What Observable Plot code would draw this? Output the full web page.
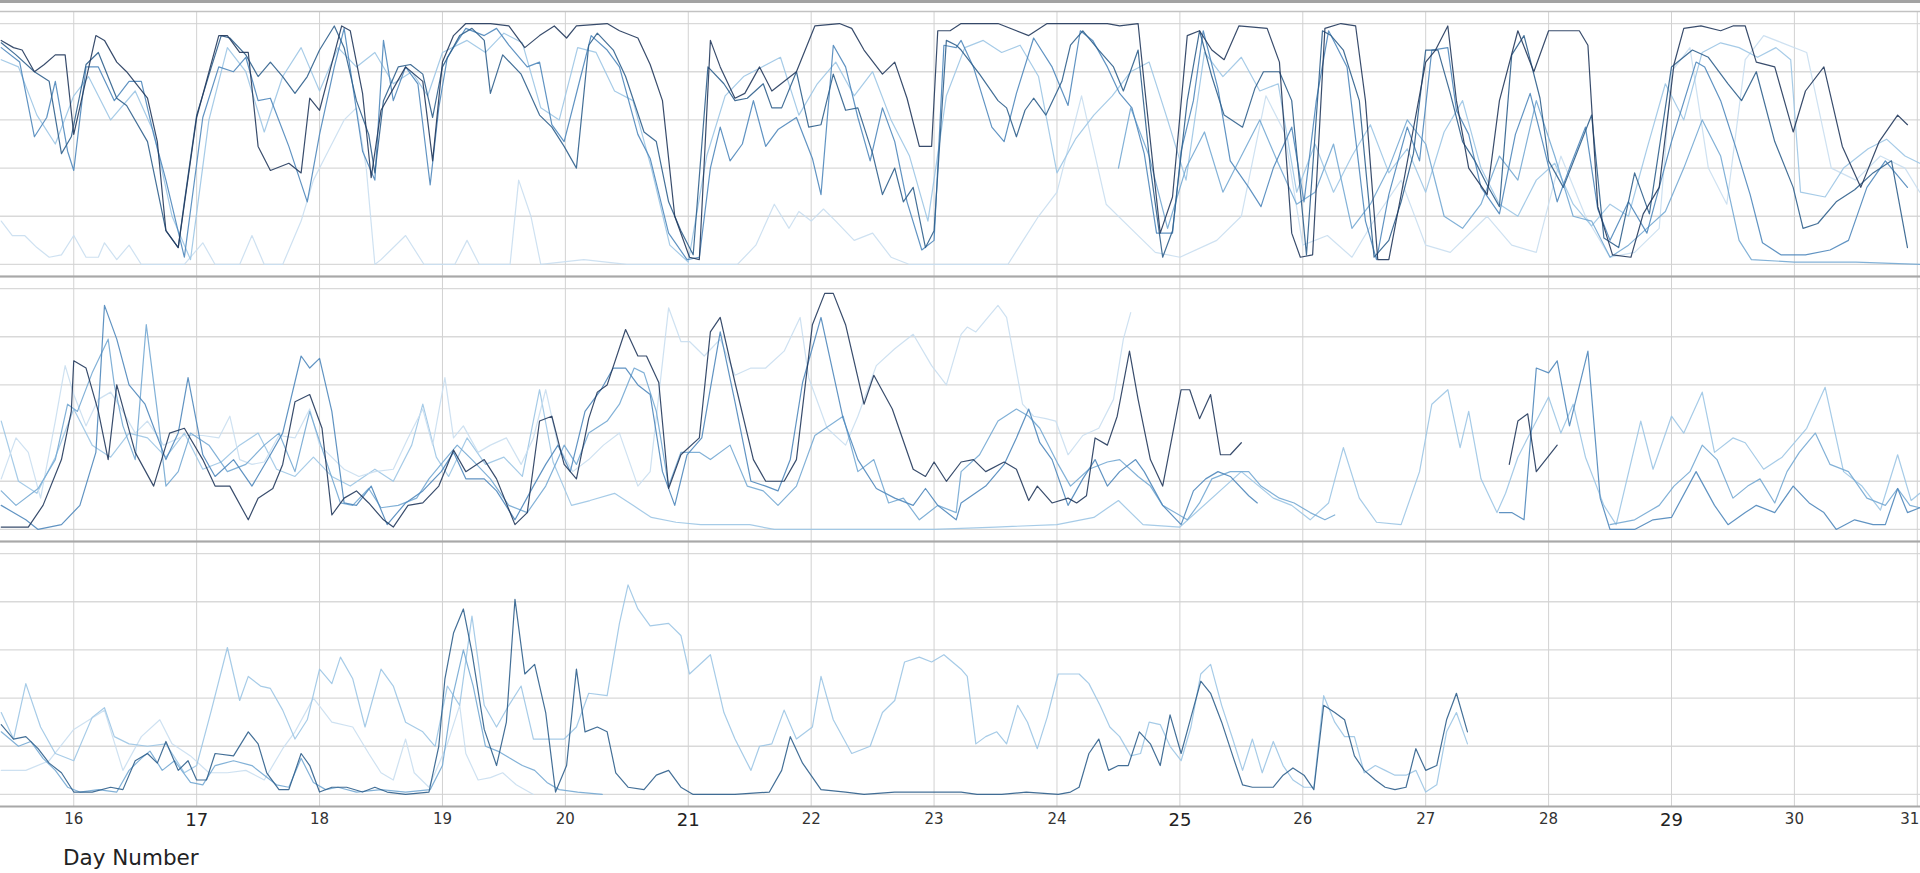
<!DOCTYPE html>
<html><head><meta charset="utf-8">
<script src="https://cdn.jsdelivr.net/npm/d3@7"></script>
<script src="https://cdn.jsdelivr.net/npm/@observablehq/plot@0.6"></script>
<style>
body{margin:0;background:#fff;font-family:"DejaVu Sans",sans-serif;}
#wrap{position:relative;width:1920px;height:873px;overflow:hidden;}
#topband{position:absolute;left:0;top:0;width:1920px;height:3px;background:#a3a3a3;}
#xlabel{position:absolute;left:63px;top:846px;font-size:21.5px;line-height:24px;color:#222;font-family:"DejaVu Sans",sans-serif;}
</style></head><body>
<div id="wrap"><div id="chart"></div><div id="topband"></div><div id="xlabel">Day Number</div></div>
<script>
// ---------- tick labels / categories ----------
const days = [16,17,18,19,20,21,22,23,24,25,26,27,28,29,30,31];
const bigDays = [17,21,25,29];
const edgeDays = [31];
const panels = ["p1","p2","p3"];
const gridValues = [0,20,40,60,80,100];
const shades = ["vl","lt","mf","md","dm","dk"];
const shadeColors = ["#c9def0","#9cc5e4","#74a8d3","#4f87bb","#2f5f8c","#22395c"];

// ---------- panel 1 ----------
const p1A = [[15.41,93],[15.51,90],[15.58,89],[15.68,80],[15.76,83],[15.85,87],[15.93,87],[16.0,54],[16.18,95],[16.25,93],[16.35,84],[16.43,80],[16.6,69],[16.68,51],[16.75,14],[16.85,7],[17.0,61],[17.18,95],[17.25,95],[17.35,88],[17.42,88],[17.5,49],[17.6,39],[17.75,42],[17.85,38],[17.92,69],[18.0,64],[18.18,99],[18.25,97],[18.35,71],[18.42,36],[18.5,64],[18.6,73],[18.7,82],[18.84,76],[18.92,43],[19.0,84],[19.09,95],[19.19,100],[19.39,100],[19.54,99],[19.67,90],[19.79,95],[19.91,99],[20.01,94],[20.09,99],[20.34,100],[20.44,97],[20.59,94],[20.69,83],[20.79,68],[20.89,20],[21.01,3],[21.09,2],[21.18,93],[21.26,82],[21.38,69],[21.46,71],[21.58,82],[21.68,72],[21.88,80],[22.03,99],[22.23,100],[22.33,98],[22.43,89],[22.58,79],[22.68,84],[22.78,69],[22.88,49],[22.98,49],[23.03,97],[23.13,97],[23.22,100],[23.52,100],[23.77,95],[23.92,100],[24.41,100],[24.51,99],[24.66,100],[24.71,75],[24.84,13],[24.94,28],[25.06,95],[25.16,97],[25.26,89],[25.36,85],[25.48,99],[25.71,98],[25.81,84],[25.91,13],[25.98,3],[26.08,4],[26.18,98],[26.31,100],[26.43,99],[26.51,68],[26.61,2],[26.7,2],[26.83,37],[27.0,84],[27.08,89],[27.18,99],[27.25,68],[27.35,40],[27.5,29],[27.6,68],[27.75,97],[27.88,80],[28.0,97],[28.25,97],[28.32,91],[28.4,24],[28.52,4],[28.67,3],[28.77,21],[28.9,32],[29.02,83],[29.1,98],[29.24,99],[29.4,97],[29.5,99],[29.6,99],[29.69,84],[29.84,82],[29.99,55],[30.09,72],[30.24,82],[30.39,49],[30.54,32],[30.69,51],[30.84,62],[30.92,58]];
const p1B = [[15.41,92],[15.53,87],[15.68,80],[15.8,76],[15.9,46],[15.98,53],[16.1,83],[16.2,88],[16.35,69],[16.43,66],[16.6,51],[16.75,14],[16.85,7],[16.9,26],[17.0,62],[17.12,82],[17.2,95],[17.27,94],[17.4,87],[17.5,78],[17.6,84],[17.7,78],[17.8,71],[17.9,78],[18.0,89],[18.12,99],[18.2,90],[18.3,68],[18.4,54],[18.45,38],[18.52,68],[18.64,82],[18.74,83],[18.84,79],[18.92,61],[19.0,82],[19.14,95],[19.24,98],[19.34,93],[19.39,71],[19.49,87],[19.64,79],[19.79,62],[19.89,57],[19.99,49],[20.09,40],[20.19,91],[20.26,96],[20.39,89],[20.49,78],[20.64,55],[20.74,51],[20.84,26],[20.94,14],[21.04,4],[21.16,82],[21.29,75],[21.38,68],[21.48,69],[21.61,75],[21.68,65],[21.76,65],[21.88,80],[21.98,57],[22.08,58],[22.18,79],[22.28,64],[22.38,65],[22.5,46],[22.58,29],[22.68,40],[22.75,26],[22.83,32],[22.93,7],[23.0,14],[23.1,93],[23.18,91],[23.22,89],[23.37,79],[23.52,68],[23.59,65],[23.67,53],[23.74,64],[23.81,69],[23.91,62],[24.04,76],[24.11,91],[24.21,97],[24.34,89],[24.46,82],[24.54,72],[24.66,89],[24.76,40],[24.86,3],[24.94,14],[25.06,68],[25.16,97],[25.26,78],[25.36,62],[25.51,57],[25.61,73],[25.68,80],[25.81,80],[25.91,68],[26.03,4],[26.16,97],[26.23,95],[26.33,89],[26.46,68],[26.58,3],[26.7,10],[26.8,26],[26.9,46],[27.0,89],[27.1,89],[27.2,71],[27.3,51],[27.4,43],[27.5,33],[27.6,24],[27.7,87],[27.8,95],[27.93,69],[28.0,43],[28.12,32],[28.25,49],[28.35,62],[28.45,11],[28.57,7],[28.7,38],[28.82,21],[29.0,82],[29.17,89],[29.3,86],[29.46,75],[29.57,68],[29.69,80],[29.84,51],[29.99,32],[30.07,15],[30.19,17],[30.34,26],[30.49,31],[30.64,38],[30.79,43],[30.92,7]];
const p1C = [[15.41,90],[15.56,84],[15.68,53],[15.78,61],[15.85,76],[15.95,47],[16.0,39],[16.1,82],[16.2,82],[16.33,68],[16.45,76],[16.55,76],[16.65,54],[16.75,35],[16.9,3],[17.05,61],[17.18,82],[17.3,80],[17.4,86],[17.5,68],[17.6,69],[17.75,49],[17.9,26],[18.0,54],[18.12,82],[18.2,98],[18.35,47],[18.45,35],[18.52,93],[18.6,68],[18.7,82],[18.8,75],[18.9,33],[18.97,65],[19.04,86],[19.19,98],[19.34,95],[19.44,98],[19.54,91],[19.69,82],[19.79,84],[19.89,58],[19.99,51],[20.11,75],[20.21,95],[20.34,89],[20.44,82],[20.59,54],[20.69,44],[20.84,13],[20.99,2],[21.09,3],[21.18,40],[21.26,57],[21.34,43],[21.44,50],[21.53,68],[21.63,49],[21.73,56],[21.88,61],[22.01,44],[22.08,29],[22.18,91],[22.28,82],[22.38,61],[22.48,43],[22.58,65],[22.68,51],[22.78,26],[22.9,6],[23.0,10],[23.08,91],[23.18,90],[23.22,93],[23.32,82],[23.47,57],[23.57,51],[23.67,71],[23.81,94],[23.96,82],[24.09,66],[24.19,97],[24.29,93],[24.41,82],[24.51,71],[24.61,65],[24.71,46],[24.81,13],[24.94,13],[25.01,47],[25.11,68],[25.19,97],[25.31,73],[25.41,43],[25.56,32],[25.66,24],[25.76,40],[25.91,57],[26.01,26],[26.11,68],[26.21,97],[26.36,82],[26.51,18],[26.6,2],[26.7,29],[26.85,57],[26.95,43],[27.05,89],[27.18,90],[27.25,64],[27.35,54],[27.45,32],[27.6,21],[27.73,54],[27.85,71],[27.95,51],[28.07,26],[28.17,40],[28.3,57],[28.4,23],[28.5,10],[28.65,26],[28.8,13],[29.0,51],[29.2,84],[29.27,82],[29.4,68],[29.52,49],[29.64,29],[29.74,9],[29.89,4],[30.09,4],[30.29,6],[30.44,10],[30.59,32],[30.74,43],[30.92,32]];
const p1D = [[15.41,85],[15.55,82],[15.7,62],[15.85,50],[16.0,70],[16.12,78],[16.3,60],[16.5,72],[16.65,55],[16.8,20],[16.95,2],[17.1,60],[17.25,90],[17.4,80],[17.55,55],[17.7,78],[17.85,90],[18.0,72],[18.15,90],[18.3,82],[18.45,88],[18.6,75],[18.75,80],[18.88,70],[19.0,88],[19.2,93],[19.35,88],[19.5,96],[19.65,92],[19.8,65],[19.95,60],[20.1,90],[20.25,88],[20.4,72],[20.55,68],[20.7,40],[20.85,8],[21.0,1],[21.15,45],[21.3,70],[21.45,78],[21.6,82],[21.75,86],[21.9,62],[22.05,75],[22.2,84],[22.35,70],[22.5,80],[22.65,60],[22.8,45],[22.95,18],[23.1,70],[23.25,90],[23.4,93],[23.55,88],[23.7,91],[23.85,78],[24.0,38],[24.15,52],[24.3,62],[24.45,70],[24.6,80],[24.75,84],[24.9,60],[25.05,35],[25.2,88],[25.35,78],[25.5,86],[25.65,72],[25.8,75],[25.95,30],[26.1,50],[26.25,30],[26.4,45],[26.55,58],[26.7,38],[26.85,48],[27.0,30],[27.15,55],[27.3,68],[27.45,40],[27.6,25],[27.75,20],[27.9,35],[28.05,42],[28.2,25],[28.35,16],[28.5,25],[28.65,20],[28.8,48],[28.95,75],[29.1,60],[29.25,88],[29.4,92],[29.55,90],[29.7,86],[29.85,90],[29.97,85],[30.05,30],[30.25,28],[30.4,40],[30.6,48],[30.75,52],[30.9,45],[31.02,42]];
const p1E = [[15.41,18],[15.5,12],[15.6,12],[15.7,7],[15.8,3],[15.9,4],[16.0,12],[16.1,3],[16.2,3],[16.25,9],[16.35,2],[16.45,8],[16.55,0],[16.9,0],[17.05,9],[17.15,0],[17.35,0],[17.45,12],[17.55,0],[17.7,0],[17.85,18],[17.95,35],[18.05,45],[18.2,60],[18.3,65],[18.38,40],[18.45,0],[18.5,2],[18.7,12],[18.85,0],[19.1,0],[19.2,10],[19.3,0],[19.55,0],[19.62,35],[19.72,20],[19.8,0],[20.15,2],[20.5,0],[21.4,0],[21.55,8],[21.7,25],[21.82,15],[21.9,22],[22.0,18],[22.1,23],[22.2,18],[22.35,10],[22.5,13],[22.65,3],[22.8,0],[23.6,0],[23.7,8],[23.85,20],[24.0,30],[24.2,70],[24.4,25],[24.6,15],[24.8,5],[25.0,3],[25.3,10],[25.5,20],[25.7,70],[25.85,55],[26.0,8],[26.2,12],[26.4,3],[26.6,20],[26.8,35],[27.0,8],[27.2,5],[27.5,20],[27.7,8],[27.9,5],[28.1,45],[28.3,20],[28.5,3],[28.7,5],[28.9,15],[29.0,80],[29.15,90],[29.3,40],[29.45,25],[29.6,85],[29.75,95],[29.9,92],[30.1,88],[30.3,40],[30.5,35],[30.7,45],[30.9,40],[31.02,30]];
const p1F = [[24.5,40],[24.6,65],[24.75,45],[24.9,15],[25.05,40],[25.2,55],[25.35,30],[25.5,45],[25.65,60],[25.8,42],[25.95,25],[26.1,30],[26.25,50],[26.4,15],[26.55,25],[26.7,40],[26.85,60],[27.0,50],[27.15,20],[27.3,15],[27.45,25],[27.6,45],[27.75,35],[27.9,68],[28.05,45],[28.2,20],[28.35,18],[28.5,3],[28.65,8],[28.8,15],[28.95,22],[29.1,40],[29.25,60],[29.4,45],[29.55,10],[29.65,2],[30.0,1],[30.5,1],[31.02,0]];

// ---------- panel 2 ----------
const p2A1 = [[15.41,1],[15.63,1],[15.75,10],[15.9,29],[15.98,49],[16.0,70],[16.1,67],[16.2,49],[16.28,29],[16.35,60],[16.5,32],[16.65,18],[16.78,40],[16.9,42],[17.05,29],[17.15,18],[17.27,18],[17.42,4],[17.5,13],[17.62,17],[17.7,27],[17.8,53],[17.92,56],[18.02,42],[18.1,6],[18.2,13],[18.3,16],[18.4,11],[18.52,4],[18.6,1],[18.72,10],[18.84,11],[18.97,18],[19.09,33],[19.19,24],[19.34,29],[19.44,21],[19.59,2],[19.69,7],[19.79,45],[19.89,47],[19.99,27],[20.09,21],[20.19,46],[20.26,57],[20.34,60],[20.49,83],[20.59,72],[20.66,72],[20.76,61],[20.84,17],[20.94,31],[21.09,38],[21.18,82],[21.26,88],[21.38,61],[21.53,29],[21.63,20],[21.78,20],[21.88,29],[22.01,85],[22.11,98],[22.18,98],[22.28,85],[22.43,52],[22.51,64],[22.66,50],[22.83,25],[22.93,22],[23.0,28],[23.1,20],[23.22,28],[23.32,29],[23.42,24],[23.57,28],[23.67,25],[23.77,12],[23.84,18],[23.96,11],[24.09,13],[24.16,11],[24.24,14],[24.31,38],[24.41,35],[24.49,47],[24.59,74],[24.66,54],[24.76,29],[24.86,18],[25.01,58],[25.08,58],[25.16,46],[25.25,56],[25.33,31],[25.41,31],[25.5,36]];
const p2A2 = [[27.68,27],[27.75,45],[27.83,48],[27.9,24],[28.07,35]];
const p2B1 = [[15.41,10],[15.61,4],[15.71,0],[15.9,2],[16.05,10],[16.18,32],[16.25,93],[16.35,79],[16.45,60],[16.58,52],[16.75,29],[16.85,40],[16.93,63],[17.05,31],[17.15,22],[17.3,29],[17.45,18],[17.6,31],[17.7,40],[17.85,72],[17.92,67],[18.0,71],[18.1,49],[18.2,11],[18.3,10],[18.42,18],[18.55,2],[18.7,11],[18.84,16],[18.99,24],[19.09,32],[19.19,21],[19.34,21],[19.44,16],[19.59,4],[19.74,18],[19.84,27],[19.94,35],[20.04,24],[20.16,49],[20.29,58],[20.39,67],[20.49,67],[20.59,60],[20.69,56],[20.79,24],[20.89,10],[20.99,31],[21.11,38],[21.26,82],[21.38,53],[21.51,20],[21.63,18],[21.73,16],[21.83,29],[21.93,61],[22.08,88],[22.26,46],[22.38,29],[22.53,17],[22.68,13],[22.83,10],[22.93,17],[23.03,10],[23.18,4],[23.22,11],[23.42,18],[23.57,27],[23.67,38],[23.77,50],[23.86,36],[23.96,29],[24.09,10],[24.21,21],[24.31,29],[24.41,18],[24.51,24],[24.64,29],[24.71,24],[24.86,10],[25.01,2],[25.11,16],[25.21,21],[25.31,24],[25.41,22],[25.56,14],[25.63,11]];
const p2B2 = [[27.6,7],[27.7,7],[27.8,4],[27.9,67],[28.0,65],[28.07,70],[28.17,43],[28.32,74],[28.42,13],[28.5,0],[28.7,0],[28.85,4],[29.0,5],[29.2,24],[29.35,10],[29.46,2],[29.6,7],[29.69,10],[29.84,7],[29.99,18],[30.12,11],[30.24,7],[30.34,0],[30.49,4],[30.64,2],[30.74,2],[30.84,17],[30.92,7],[31.02,9]];
const p2C1 = [[15.41,16],[15.53,10],[15.71,17],[15.85,29],[15.95,52],[16.03,49],[16.15,65],[16.28,79],[16.33,60],[16.4,43],[16.5,29],[16.59,85],[16.68,49],[16.75,18],[16.85,24],[16.95,40],[17.1,35],[17.25,24],[17.4,27],[17.55,35],[17.67,40],[17.8,24],[17.92,49],[18.05,29],[18.17,11],[18.27,10],[18.4,17],[18.5,9],[18.64,10],[18.79,13],[18.89,21],[19.02,29],[19.12,35],[19.24,29],[19.39,21],[19.54,10],[19.69,7],[19.84,18],[19.99,35],[20.09,27],[20.19,40],[20.34,45],[20.44,52],[20.56,67],[20.64,65],[20.74,49],[20.84,18],[20.94,32],[21.09,32],[21.18,29],[21.34,35],[21.48,18],[21.61,16],[21.73,10],[21.88,18],[22.03,39],[22.26,47],[22.38,24],[22.51,29],[22.63,11],[22.75,13],[22.88,4],[23.03,10],[23.18,7],[23.22,24],[23.37,31],[23.52,45],[23.67,50],[23.77,47],[23.86,42],[24.01,27],[24.11,18],[24.26,25],[24.41,28],[24.51,29],[24.66,22],[24.76,18],[24.86,10],[24.96,7],[25.06,4],[25.16,11],[25.26,21],[25.41,24],[25.56,24],[25.66,18],[25.81,13],[25.93,11],[26.06,7],[26.18,4],[26.26,6]];
const p2C2 = [[28.5,2],[28.7,4],[28.9,10],[29.02,18],[29.15,24],[29.25,35],[29.37,29],[29.5,13],[29.62,18],[29.72,21],[29.84,11],[29.94,24],[30.04,32],[30.17,40],[30.29,27],[30.44,24],[30.59,13],[30.74,10],[30.84,17],[30.94,10],[31.02,9]];
const p2D = [[15.41,21],[15.53,38],[15.63,32],[15.73,13],[15.85,45],[15.93,68],[16.0,56],[16.1,43],[16.2,54],[16.3,57],[16.4,49],[16.5,40],[16.6,45],[16.73,35],[16.9,39],[17.05,39],[17.18,38],[17.27,47],[17.35,29],[17.45,27],[17.55,28],[17.67,39],[17.8,38],[17.92,50],[18.0,35],[18.12,29],[18.2,25],[18.32,22],[18.45,24],[18.6,25],[18.72,38],[18.84,50],[18.92,35],[19.02,63],[19.09,38],[19.17,43],[19.29,32],[19.39,35],[19.52,38],[19.64,27],[19.74,38],[19.84,58],[19.94,35],[20.06,24],[20.19,29],[20.31,35],[20.44,40],[20.59,18],[20.69,24],[20.84,92],[20.94,78],[21.01,78],[21.13,72],[21.26,79],[21.38,64],[21.51,67],[21.63,67],[21.78,74],[21.91,88],[21.98,63],[22.13,42],[22.28,35],[22.38,47],[22.53,68],[22.68,75],[22.83,81],[22.98,68],[23.1,60],[23.22,81],[23.27,84],[23.34,82],[23.52,93],[23.59,88],[23.72,52],[23.81,47],[23.91,46],[23.99,45],[24.09,31],[24.21,39],[24.34,42],[24.46,54],[24.54,79],[24.6,90]];
const p2E = [[15.41,45],[15.55,20],[15.7,15],[15.85,30],[16.0,50],[16.15,35],[16.3,30],[16.45,40],[16.6,38],[16.75,30],[16.9,40],[17.05,25],[17.2,28],[17.35,35],[17.5,40],[17.65,25],[17.8,22],[17.95,30],[18.1,22],[18.25,18],[18.45,25],[18.6,20],[18.75,35],[18.84,52],[18.95,30],[19.05,22],[19.2,38],[19.35,27],[19.5,30],[19.65,22],[19.79,58],[19.9,28],[20.05,10],[20.2,12],[20.4,15],[20.55,10],[20.7,5],[20.9,3],[21.1,2],[21.3,2],[21.5,2],[21.7,0],[22.0,0],[22.5,0],[23.0,0],[23.5,1],[24.0,2],[24.3,5],[24.5,12],[24.7,2],[25.0,1],[25.5,24],[25.76,13],[25.91,10],[26.06,4],[26.21,11],[26.33,34],[26.46,13],[26.6,3],[26.8,2],[26.95,24],[27.05,52],[27.18,58],[27.28,34],[27.35,49],[27.45,21],[27.58,7],[27.65,15],[27.75,30],[27.9,45],[28.0,55],[28.1,40],[28.2,52],[28.3,30],[28.45,10],[28.55,2],[28.75,45],[28.85,25],[29.0,47],[29.1,40],[29.25,57],[29.35,32],[29.5,38],[29.6,36],[29.75,25],[29.9,30],[30.1,42],[30.25,59],[30.4,24],[30.55,18],[30.7,8],[30.84,31],[30.95,12],[31.02,15]];

// ---------- panel 3 ----------
const p3A = [[15.41,29],[15.51,23],[15.61,24],[15.71,19],[15.8,13],[15.9,9],[16.0,1],[16.15,1],[16.3,3],[16.4,2],[16.5,14],[16.6,17],[16.68,13],[16.75,22],[16.85,10],[16.93,14],[17.0,6],[17.08,6],[17.15,17],[17.3,16],[17.42,26],[17.5,21],[17.57,9],[17.67,2],[17.75,2],[17.85,17],[17.92,12],[18.0,1],[18.1,3],[18.22,3],[18.35,1],[18.45,3],[18.55,1],[18.7,0],[18.89,1],[18.97,20],[19.02,48],[19.09,67],[19.17,77],[19.24,59],[19.34,27],[19.44,12],[19.52,30],[19.59,81],[19.67,50],[19.75,54],[19.84,34],[19.92,1],[20.01,12],[20.09,52],[20.16,26],[20.26,28],[20.34,26],[20.41,9],[20.51,3],[20.64,2],[20.74,8],[20.84,10],[20.94,3],[21.04,0],[21.38,0],[21.66,1],[21.76,10],[21.83,24],[21.93,13],[22.08,2],[22.28,1],[22.43,0],[22.68,1],[22.98,1],[23.22,1],[23.35,0],[23.55,0],[23.75,1],[24.01,0],[24.11,1],[24.18,3],[24.26,17],[24.34,23],[24.42,10],[24.5,12],[24.58,12],[24.67,26],[24.76,21],[24.84,12],[24.92,33],[25.01,17],[25.09,32],[25.17,47],[25.25,42],[25.34,30],[25.43,16],[25.51,4],[25.59,3],[25.67,3],[25.76,3],[25.84,8],[25.92,11],[26.01,8],[26.09,2],[26.17,37],[26.26,34],[26.34,31],[26.42,16],[26.5,10],[26.59,6],[26.67,3],[26.75,2],[26.84,3],[26.92,19],[27.0,10],[27.09,12],[27.17,31],[27.25,42],[27.34,26]];
const p3B = [[15.41,34],[15.51,23],[15.61,46],[15.73,28],[15.85,17],[16.0,14],[16.15,32],[16.25,36],[16.33,24],[16.45,21],[16.6,20],[16.75,21],[16.9,9],[17.0,12],[17.12,35],[17.25,61],[17.35,39],[17.42,49],[17.52,45],[17.6,44],[17.7,35],[17.8,23],[17.9,31],[18.0,52],[18.1,46],[18.17,57],[18.27,48],[18.37,28],[18.5,52],[18.6,45],[18.7,30],[18.84,26],[18.94,20],[19.04,45],[19.14,37],[19.24,74],[19.34,37],[19.44,28],[19.54,37],[19.64,45],[19.74,23],[19.89,23],[19.99,23],[20.09,28],[20.19,42],[20.34,41],[20.44,71],[20.51,87],[20.59,77],[20.69,70],[20.84,71],[20.94,66],[21.01,50],[21.18,58],[21.29,34],[21.38,23],[21.51,10],[21.58,20],[21.68,21],[21.78,35],[21.88,23],[22.01,28],[22.08,49],[22.18,31],[22.33,17],[22.48,20],[22.58,34],[22.68,39],[22.76,55],[22.88,57],[22.98,55],[23.08,58],[23.22,52],[23.27,49],[23.34,21],[23.42,24],[23.51,26],[23.59,21],[23.68,37],[23.76,30],[23.84,19],[23.92,32],[24.01,50],[24.1,50],[24.18,50],[24.26,46],[24.35,37],[24.43,28],[24.51,24],[24.6,16],[24.68,17],[24.75,30],[24.84,29],[24.92,20],[25.01,14],[25.09,28],[25.17,50],[25.25,54],[25.34,37],[25.43,23],[25.51,10],[25.59,23],[25.67,9],[25.76,22],[25.84,12],[25.92,6],[26.01,3],[26.09,3],[26.17,41],[26.26,30],[26.34,24],[26.42,24],[26.5,9],[26.59,12],[26.67,10],[26.75,8],[26.84,8],[26.92,10],[27.0,1],[27.09,4],[27.17,26],[27.25,34],[27.34,21]];
const p3C = [[15.41,10],[15.61,10],[15.8,14],[16.0,27],[16.25,35],[16.4,10],[16.55,24],[16.7,31],[16.8,21],[16.95,16],[17.1,9],[17.25,9],[17.4,10],[17.55,6],[17.7,19],[17.8,26],[17.95,40],[18.1,30],[18.27,28],[18.4,17],[18.5,9],[18.6,6],[18.7,23],[18.77,9],[18.89,3],[19.04,21],[19.14,37],[19.19,17],[19.29,6],[19.39,7],[19.49,9],[19.6,4],[19.74,0]];
const p3D = [[15.41,26],[15.55,20],[15.65,22],[15.75,15],[15.85,10],[15.95,3],[16.05,1],[16.2,2],[16.35,1],[16.45,10],[16.55,15],[16.62,18],[16.72,10],[16.82,14],[16.95,5],[17.05,4],[17.15,12],[17.3,14],[17.45,12],[17.55,8],[17.65,4],[17.75,3],[17.85,15],[17.95,5],[18.05,2],[18.15,3],[18.3,1],[18.5,2],[18.7,1],[18.9,2],[19.0,12],[19.08,40],[19.17,60],[19.25,45],[19.35,20],[19.45,18],[19.55,15],[19.65,12],[19.75,10],[19.85,5],[19.95,2],[20.1,1],[20.3,0]];

// ---------- build table (light series first, dark on top) ----------
const seriesList = [
  ["p1","p1E","vl",p1E],["p1","p1D","lt",p1D],["p1","p1F","mf",p1F],["p1","p1C","md",p1C],["p1","p1B","dm",p1B],["p1","p1A","dk",p1A],
  ["p2","p2E","lt",p2E],["p2","p2D","vl",p2D],["p2","p2C1","mf",p2C1],["p2","p2C2","mf",p2C2],["p2","p2B1","md",p2B1],["p2","p2B2","md",p2B2],["p2","p2A1","dk",p2A1],["p2","p2A2","dk",p2A2],
  ["p3","p3C","vl",p3C],["p3","p3B","lt",p3B],["p3","p3D","mf",p3D],["p3","p3A","dm",p3A]
];
const rows = [];
for (const [panel, key, shade, pts] of seriesList) {
  for (const [day, value] of pts) rows.push({panel, key, shade, day, value});
}
const tickSmall = days.filter(d => !bigDays.includes(d) && !edgeDays.includes(d)).map(d => ({day: d, panel: "p3"}));
const tickBig = days.filter(d => bigDays.includes(d)).map(d => ({day: d, panel: "p3"}));
const tickEdge = edgeDays.map(d => ({day: d, panel: "p3"}));

const chart = Plot.plot({
  width: 1920, height: 840,
  marginTop: 10, marginBottom: 33, marginLeft: 0, marginRight: 0,
  style: {background: "#fff", fontFamily: "DejaVu Sans, sans-serif"},
  x: {domain: [15.404, 31.026], axis: null},
  y: {domain: [-5, 105], axis: null},
  fy: {domain: panels, axis: null, padding: 0},
  color: {domain: shades, range: shadeColors},
  marks: [
    Plot.ruleY(gridValues, {stroke: "#d9d9d9", strokeWidth: 1.3}),
    Plot.ruleX(days, {stroke: "#d2d2d2", strokeWidth: 1}),
    Plot.line(rows, {x: "day", y: "value", z: "key", stroke: "shade", fy: "panel", strokeWidth: 1.2, strokeOpacity: 0.9, clip: true}),
    Plot.ruleY([105], {stroke: "#c2c2c2", strokeWidth: 1.5}),
    Plot.ruleY([-5], {stroke: "#a8a8a8", strokeWidth: 2}),
    Plot.text(tickSmall, {x: "day", fy: "panel", frameAnchor: "bottom", dy: 17, text: d => String(d.day), fontSize: 15, fill: "#333"}),
    Plot.text(tickBig, {x: "day", fy: "panel", frameAnchor: "bottom", dy: 19, text: d => String(d.day), fontSize: 18, fill: "#222"}),
    Plot.text(tickEdge, {x: "day", fy: "panel", frameAnchor: "bottom", dy: 17, textAnchor: "end", dx: 2, text: d => String(d.day), fontSize: 15, fill: "#333"})
  ]
});
document.getElementById("chart").appendChild(chart);
</script>
</body></html>
